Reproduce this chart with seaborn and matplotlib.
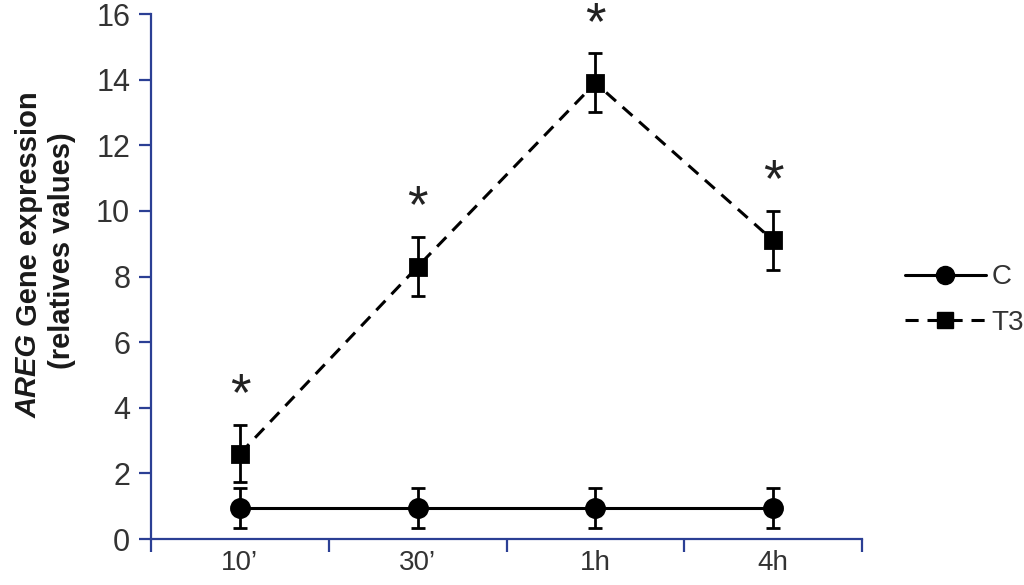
import matplotlib
matplotlib.use("Agg")
import matplotlib.pyplot as plt
import pandas as pd
import seaborn as sns

times = ["10\u2019", "30\u2019", "1h", "4h"]
c_mean = [0.95, 0.95, 0.95, 0.95]
c_err = [0.6, 0.6, 0.6, 0.6]
t3_mean = [2.6, 8.3, 13.9, 9.1]
t3_err = [0.87, 0.9, 0.9, 0.9]
star_offset = 1.35

df = pd.DataFrame({
    "time": times * 2,
    "value": c_mean + t3_mean,
    "group": ["C"] * 4 + ["T3"] * 4,
})

sns.set_style("ticks")
plt.rcParams["font.family"] = ["Liberation Sans", "DejaVu Sans"]

blue = "#2b3f94"
grey = "#333333"
fig = plt.figure(figsize=(10.24, 5.85), dpi=100)
ax = fig.add_axes([0.1475, 0.0786, 0.6943, 0.8974])

sns.pointplot(
    data=df, x="time", y="value", hue="group", order=times,
    palette=["black", "black"], markers=["o", "s"], linestyles=["-", "--"],
    errorbar=None, ax=ax, legend=False,
)
ax.lines[0].set(linewidth=2.2, markersize=13)
ax.lines[1].set(linewidth=2.2, markersize=12, dashes=(4.3, 2.9))

ax.errorbar(range(4), c_mean, yerr=c_err, fmt="none", ecolor="black",
            elinewidth=2, capsize=5, capthick=2)
ax.errorbar(range(4), t3_mean, yerr=t3_err, fmt="none", ecolor="black",
            elinewidth=2, capsize=5, capthick=2)

# asterisk glyph sits high in the em box, so anchor on the baseline
for i, (m, e) in enumerate(zip(t3_mean, t3_err)):
    ax.text(i, m + e + star_offset - 0.9, "*", ha="center", va="baseline",
            fontsize=38, color="#222222")

ax.set_xlim(-0.5, 3.5)
ax.set_ylim(0, 16)
ax.set_yticks(range(0, 17, 2))
ax.set_xticks([-0.5, 0.5, 1.5, 2.5, 3.5])
ax.set_xticklabels([])
ax.set_xticks(range(4), minor=True)
ax.set_xticklabels(times, minor=True)
ax.tick_params(axis="x", which="minor", length=0, pad=8, labelsize=20,
               labelcolor=grey)
ax.tick_params(axis="x", which="major", length=9, width=1.6, color=blue)
ax.tick_params(axis="y", length=9, width=1.6, color=blue, labelsize=22,
               labelcolor=grey, pad=6)
ax.set_xlabel("")
ax.set_ylabel("")
for side in ["top", "right"]:
    ax.spines[side].set_visible(False)
for side in ["left", "bottom"]:
    ax.spines[side].set_color(blue)
    ax.spines[side].set_linewidth(1.6)

# y label: italic gene name followed by plain bold text
t1 = ax.text(-0.172, 0.23, "AREG", transform=ax.transAxes, rotation=90,
             ha="center", va="bottom", fontsize=21, fontweight="bold",
             fontstyle="italic", color="#1a1a1a")
ax.annotate(" Gene expression", xy=(0.5, 1), xycoords=t1, rotation=90,
            ha="center", va="bottom", fontsize=21, fontweight="bold",
            color="#1a1a1a")
ax.text(-0.125, 0.55, "(relatives values)", transform=ax.transAxes,
        rotation=90, ha="center", va="center", fontsize=21,
        fontweight="bold", color="#1a1a1a")

handles = [
    plt.Line2D([], [], color="black", lw=2.2, marker="o", markersize=13),
    plt.Line2D([], [], color="black", lw=2.2, marker="s", markersize=12,
               dashes=(4.3, 2.9)),
]
leg = fig.legend(handles, ["C", "T3"], loc="center left",
                 bbox_to_anchor=(0.884, 0.487), frameon=False, fontsize=20,
                 handlelength=2.9, handletextpad=0.2, labelspacing=0.7,
                 borderpad=0, borderaxespad=0, numpoints=1)
for t in leg.get_texts():
    t.set_color(grey)

fig.savefig("out.png", dpi=100)
